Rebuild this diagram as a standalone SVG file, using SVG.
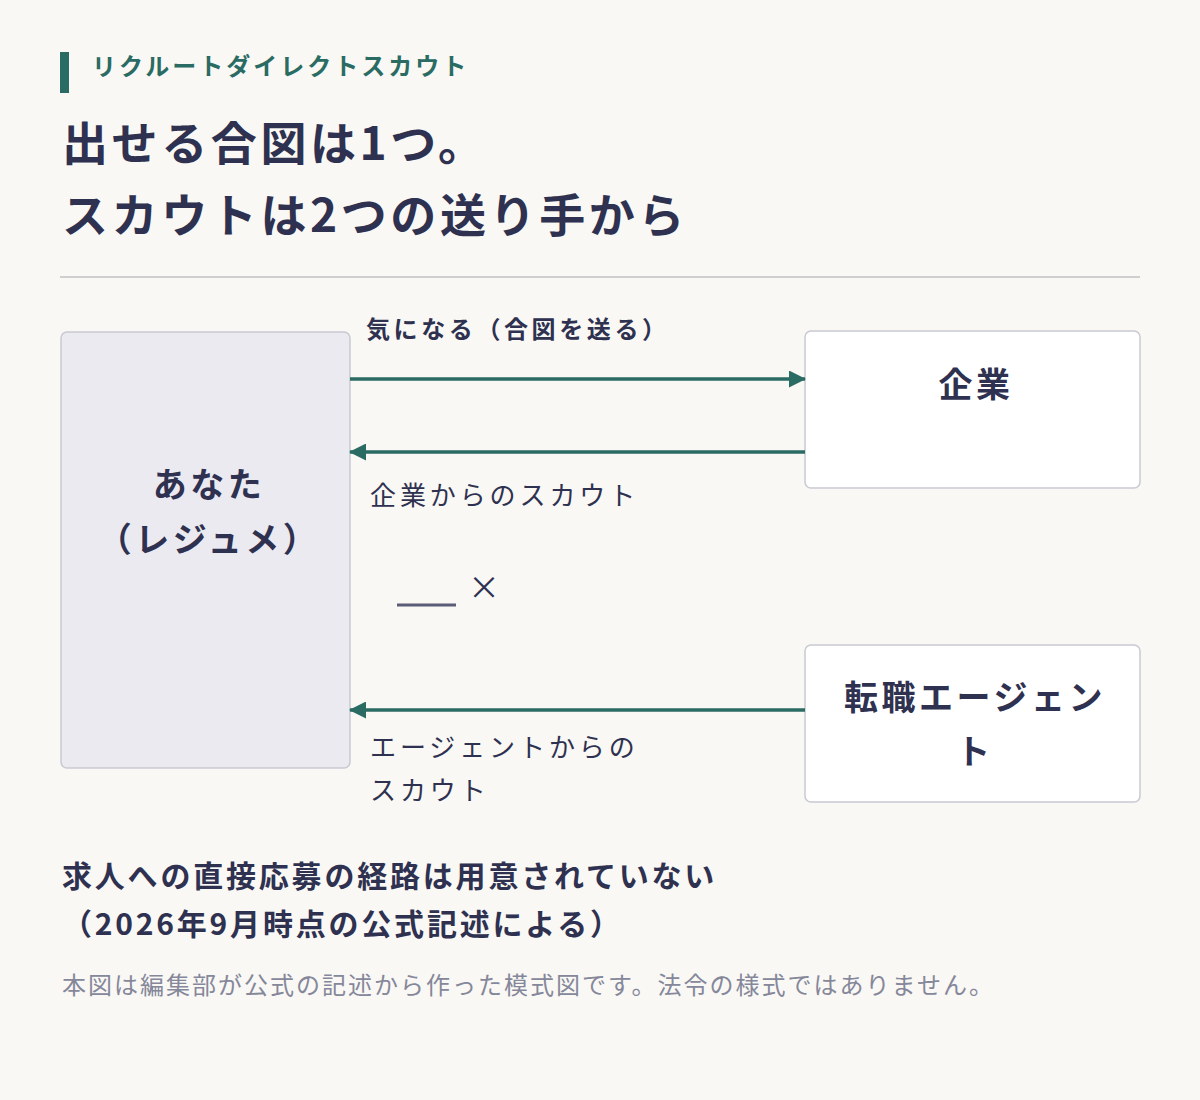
<svg xmlns="http://www.w3.org/2000/svg" width="1200" height="1100" viewBox="0 0 1200 1100">
<defs>
<style>
text{font-family:"Noto Sans CJK JP","Noto Sans",sans-serif;fill:#2f3150}
.eyebrow{font-size:24px;font-weight:700;fill:#2a6b63;letter-spacing:3px}
.title{font-size:46px;font-weight:700;letter-spacing:3.6px}
.node{font-size:34px;font-weight:700;text-anchor:middle;letter-spacing:3.5px}
.lbl{font-size:26px;letter-spacing:3.9px}
.lblb{font-size:24px;font-weight:700;letter-spacing:3.6px}
.note{font-size:30px;font-weight:700;letter-spacing:2.8px}
.foot{font-size:24px;fill:#85879a;letter-spacing:2px}
.box{stroke:#c9c9d2;stroke-width:1.5}
.arrow{stroke:#2a6b63;stroke-width:3.5;fill:none}
</style>
<marker id="ah2" markerWidth="17" markerHeight="17" refX="16" refY="8.5" orient="auto" markerUnits="userSpaceOnUse">
<path d="M0,0 L17,8.5 L0,17 z" fill="#2a6b63"/>
</marker>
</defs>
<rect x="0" y="0" width="1200" height="1100" fill="#f9f8f4"/>
<g id="header">
<rect x="60" y="52" width="9" height="41" fill="#2a6b63"/>
<text class="eyebrow" x="92" y="75">リクルートダイレクトスカウト</text>
<text class="title" x="62" y="160">出せる合図は1つ。</text>
<text class="title" x="62" y="232">スカウトは2つの送り手から</text>
<line x1="60" y1="277" x2="1140" y2="277" stroke="#cfcfcf" stroke-width="2"/>
</g>
<g id="node-you">
<rect class="box" x="61" y="332" width="289" height="436" rx="6" fill="#ebeaf1"/>
<text class="node" x="209" y="497">あなた</text>
<text class="node" x="209" y="552">（レジュメ）</text>
</g>
<g id="node-company">
<rect class="box" x="805" y="331" width="335" height="157" rx="6" fill="#ffffff"/>
<text class="node" x="976" y="397">企業</text>
</g>
<g id="node-agent">
<rect class="box" x="805" y="645" width="335" height="157" rx="6" fill="#ffffff"/>
<text class="node" x="975" y="710">転職エージェン</text>
<text class="node" x="975" y="764">ト</text>
</g>
<g id="connectors">
<line class="arrow" x1="350" y1="379" x2="805" y2="379" marker-end="url(#ah2)"/>
<line class="arrow" x1="805" y1="452" x2="350" y2="452" marker-end="url(#ah2)"/>
<line class="arrow" x1="805" y1="710" x2="350" y2="710" marker-end="url(#ah2)"/>
<line x1="397" y1="605" x2="456" y2="605" stroke="#5a5d75" stroke-width="3"/>
</g>
<g id="labels">
<text class="lblb" x="366" y="338">気になる（合図を送る）</text>
<text class="lbl" x="370" y="505">企業からのスカウト</text>
<text x="484" y="599" font-size="32" text-anchor="middle">×</text>
<text class="lbl" x="370" y="757">エージェントからの</text>
<text class="lbl" x="370" y="800">スカウト</text>
</g>
<g id="footer">
<text class="note" x="62" y="887">求人への直接応募の経路は用意されていない</text>
<text class="note" x="62" y="935">（2026年9月時点の公式記述による）</text>
<text class="foot" x="62" y="994">本図は編集部が公式の記述から作った模式図です。法令の様式ではありません。</text>
</g>
</svg>
